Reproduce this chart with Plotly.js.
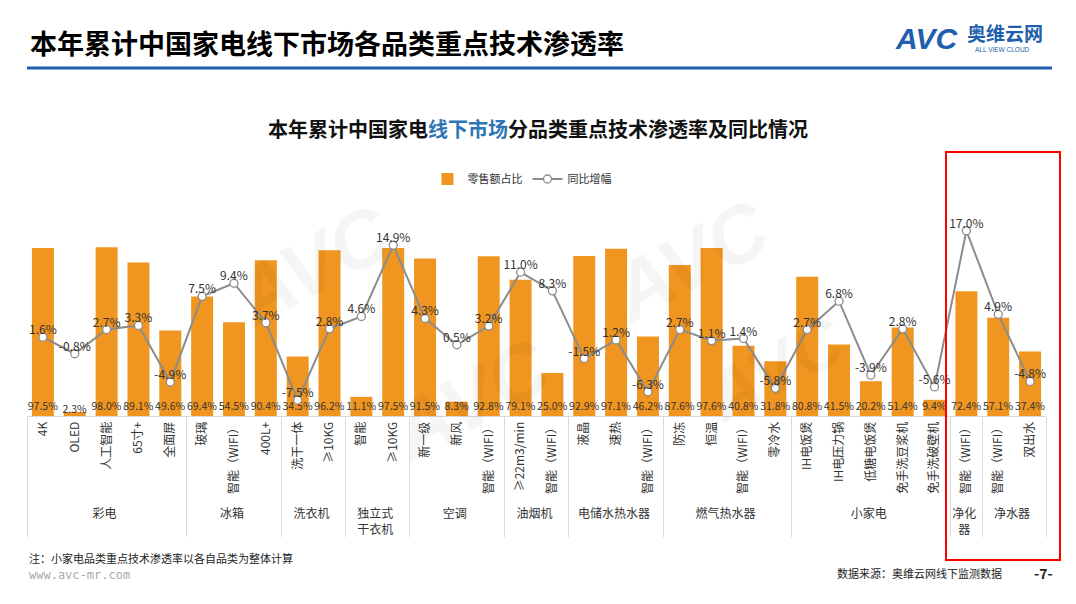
<!DOCTYPE html>
<html><head><meta charset="utf-8">
<script src="https://cdn.plot.ly/plotly-3.0.1.min.js"></script>
<style>html,body{margin:0;padding:0;background:#fff}#chart{width:1076px;height:604px}</style>
</head><body><div id="chart"></div>
<script>
// ---- data ----
const groups = ['彩电','彩电','彩电','彩电','彩电','冰箱','冰箱','冰箱','洗衣机','洗衣机','独立式<br>干衣机','独立式<br>干衣机','空调','空调','空调','油烟机','油烟机','电储水热水器','电储水热水器','电储水热水器','燃气热水器','燃气热水器','燃气热水器','燃气热水器','小家电','小家电','小家电','小家电','小家电','净化<br>器','净水器','净水器'];
const techs = ['4K','OLED','人工智能','65寸+','全面屏','玻璃','智能（WIFI）','400L+','洗干一体','≥10KG','智能','≥10KG','新一级','新风','智能（WIFI）','≥22m3/min','智能（WIFI）','液晶','速热','智能（WIFI）','防冻','恒温','智能（WIFI）','零冷水','IH电饭煲','IH电压力锅','低糖电饭煲','免手洗豆浆机','免手洗破壁机','智能（WIFI）','智能（WIFI）','双出水'];
const share = [97.5,2.3,98.0,89.1,49.6,69.4,54.5,90.4,34.5,96.2,11.1,97.5,91.5,8.3,92.8,79.1,25.0,92.9,97.1,46.2,87.6,97.6,40.8,31.8,80.8,41.5,20.2,51.4,9.4,72.4,57.1,37.4];
const yoy = [1.6,-0.8,2.7,3.3,-4.9,7.5,9.4,3.7,-7.5,2.8,4.6,14.9,4.3,0.5,3.2,11.0,8.3,-1.5,1.2,-6.3,2.7,1.1,1.4,-5.8,2.7,6.8,-3.9,2.8,-5.6,17.0,4.9,-4.8];
const seriesNames = ['零售额占比','同比增幅'];

// ---- layout geometry ----
const W = 1076, H = 604;
const M = {l: 27, r: 30, t: 220, b: 188};
const PW = W - M.l - M.r, PH = H - M.t - M.b;
const px = x => (x - M.l) / PW;
const py = y => (H - M.b - y) / PH;

const FONT = '"Noto Sans CJK SC", "Noto Sans", sans-serif';
const ORANGE = '#F0951F';
const GREY = '#8C8C8C';

// keep repeated tech names distinct so the multicategory axis keeps the given order
const seenCount = {};
const techKeys = techs.map(t => {
  const n = seenCount[t] || 0;
  seenCount[t] = n + 1;
  return t + '\u200B'.repeat(n);
});
const x = [groups, techKeys];
const pct = v => v.toFixed(1) + '%';

const traces = [
  {
    type: 'bar', x: x, y: share, name: seriesNames[0],
    marker: {color: ORANGE},
    text: share.map(pct), textposition: 'inside', insidetextanchor: 'start',
    constraintext: 'none', textangle: 0,
    insidetextfont: {size: 10.5, color: '#333', family: FONT},
    cliponaxis: false, hoverinfo: 'skip'
  },
  {
    type: 'scatter', mode: 'lines+markers', x: x, y: yoy, yaxis: 'y2', name: seriesNames[1],
    line: {color: GREY, width: 2},
    marker: {size: 8, color: '#fff', line: {color: GREY, width: 1.3}},
    cliponaxis: false, hoverinfo: 'skip'
  },
  {
    type: 'scatter', mode: 'text', x: x, y: yoy, yaxis: 'y2', showlegend: false,
    text: yoy.map(pct), textposition: 'top center',
    textfont: {size: 12, color: '#333', family: FONT},
    cliponaxis: false, hoverinfo: 'skip'
  }
];

const wm = (t, X, Y, s) => ({text: '<b><i>' + t + '</i></b>', xref: 'paper', yref: 'paper', x: px(X), y: py(Y),
  showarrow: false, textangle: -28, font: {size: s, color: 'rgba(0,0,0,0.04)', family: 'Liberation Sans, Arial'}});

const layout = {
  width: W, height: H,
  margin: M,
  paper_bgcolor: '#fff', plot_bgcolor: 'rgba(0,0,0,0)',
  font: {family: FONT, color: '#333'},
  bargap: 0.31,
  showlegend: true,
  legend: {orientation: 'h', x: px(522), xanchor: 'center', y: py(179), yanchor: 'middle',
    font: {size: 11, color: '#333', family: FONT}, itemwidth: 30, traceorder: 'normal'},
  title: {
    text: '<b>本年累计中国家电<span style="color:#2E75B6">线下市场</span>分品类重点技术渗透率及同比情况</b>',
    x: 0.5, xref: 'container', xanchor: 'center', y: 1 - 130 / H, yref: 'container', yanchor: 'middle',
    font: {size: 20, color: '#111', family: FONT}
  },
  xaxis: {
    type: 'multicategory', range: [-0.5, techs.length - 0.5], autorange: false,
    tickangle: -90, showline: true, linecolor: '#d9d9d9', linewidth: 1,
    showdividers: true, dividercolor: '#d9d9d9', dividerwidth: 1, ticks: '',
    tickfont: {size: 12, color: '#333', family: FONT}, showgrid: false, zeroline: false
  },
  yaxis: {range: [0, 113.8], visible: false, showgrid: false, zeroline: false},
  yaxis2: {range: [-9.81, 18.55], overlaying: 'y', visible: false, showgrid: false, zeroline: false},
  shapes: [
    {type: 'line', xref: 'paper', yref: 'paper', x0: px(27), x1: px(1052), y0: py(68), y1: py(68),
      line: {color: '#1F5FAD', width: 3}},
    {type: 'rect', xref: 'paper', yref: 'paper', x0: px(946), x1: px(1060), y0: py(152), y1: py(560),
      line: {color: '#FF0000', width: 2}}
  ],
  annotations: [
    wm('AVC', 215, 185, 80), wm('AVC', 690, 180, 80), wm('AVC', 470, 480, 80), wm('AVC', 860, 440, 70),
    {text: '<b>本年累计中国家电线下市场各品类重点技术渗透率</b>', xref: 'paper', yref: 'paper',
      x: px(28), y: py(42), xanchor: 'left', yanchor: 'middle', showarrow: false,
      font: {size: 27, color: '#000', family: FONT}},
    {text: '<b><i>AVC</i></b>', xref: 'paper', yref: 'paper', x: px(926), y: py(39), xanchor: 'center', yanchor: 'middle',
      showarrow: false, font: {size: 30, color: '#1F5FAD', family: 'Liberation Sans, Arial'}},
    {text: '<b>奥维云网</b>', xref: 'paper', yref: 'paper', x: px(1005), y: py(32), xanchor: 'center', yanchor: 'middle',
      showarrow: false, font: {size: 19, color: '#1F5FAD', family: FONT}},
    {text: 'ALL VIEW CLOUD', xref: 'paper', yref: 'paper', x: px(1002), y: py(49), xanchor: 'center', yanchor: 'middle',
      showarrow: false, font: {size: 6.5, color: '#1F5FAD', family: 'Liberation Sans, Arial'}},
    {text: '注：小家电品类重点技术渗透率以各自品类为整体计算', xref: 'paper', yref: 'paper', x: px(27), y: py(558),
      xanchor: 'left', yanchor: 'middle', showarrow: false, font: {size: 11, color: '#222', family: FONT}},
    {text: 'www.avc-mr.com', xref: 'paper', yref: 'paper', x: px(27), y: py(575),
      xanchor: 'left', yanchor: 'middle', showarrow: false, font: {size: 12, color: '#aaa', family: 'DejaVu Sans Mono, monospace'}},
    {text: '数据来源：奥维云网线下监测数据', xref: 'paper', yref: 'paper', x: px(1004), y: py(573),
      xanchor: 'right', yanchor: 'middle', showarrow: false, font: {size: 11, color: '#222', family: FONT}},
    {text: '<b>-7-</b>', xref: 'paper', yref: 'paper', x: px(1043), y: py(573),
      xanchor: 'center', yanchor: 'middle', showarrow: false, font: {size: 14, color: '#222', family: FONT}}
  ]
};

Plotly.newPlot('chart', traces, layout, {staticPlot: true, displayModeBar: false});
</script>
</body></html>
